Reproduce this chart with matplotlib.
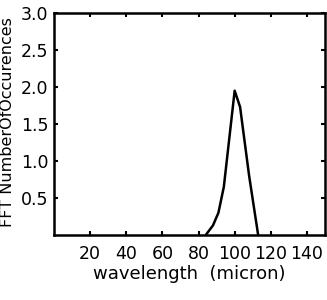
import matplotlib
matplotlib.use("Agg")
import matplotlib.pyplot as plt

# values
wavelength = [84, 88, 91, 94, 100, 103, 108, 113]
occurences = [0.0, 0.13, 0.3, 0.65, 1.95, 1.73, 0.8, 0.0]
x_ticks = [20, 40, 60, 80, 100, 120, 140]
y_ticks = [0.5, 1.0, 1.5, 2.0, 2.5, 3.0]

plt.rcParams['font.family'] = ['DejaVu Sans']

fig = plt.figure(figsize=(3.27, 3.0), dpi=100)
ax = fig.add_axes([54 / 327, 65 / 300, 271 / 327, 222 / 300])

ax.plot(wavelength, occurences, color='black', lw=1.8)

ax.set_xlim(0, 150)
ax.set_ylim(0, 3.0)
ax.set_xticks(x_ticks)
ax.set_yticks(y_ticks)
ax.set_yticklabels([f"{v:.1f}" for v in y_ticks])
ax.tick_params(direction='in', length=3, width=1.5, labelsize=12.5,
               top=True, right=True)
ax.tick_params(axis='x', pad=7)
ax.tick_params(axis='y', pad=4)
for s in ax.spines.values():
    s.set_linewidth(1.8)

ax.set_xlabel("wavelength  (micron)", fontsize=13)
ax.xaxis.set_label_coords(0.5, -0.135)
ax.set_ylabel("FFT NumberOfOccurences", fontsize=11.5, va='center')
ax.yaxis.set_label_coords(-0.172, 0.51)

fig.savefig("out.png", dpi=100)
